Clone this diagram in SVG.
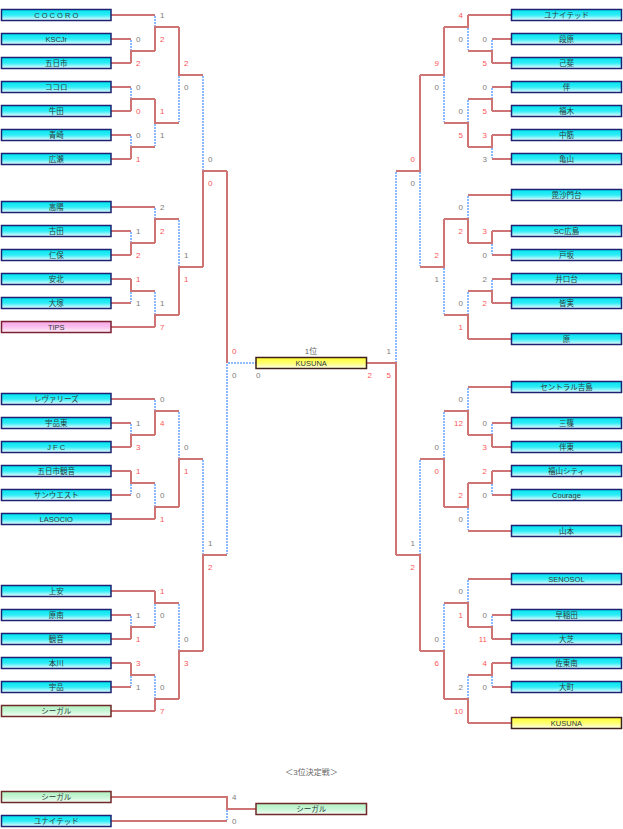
<svg xmlns="http://www.w3.org/2000/svg" width="623" height="829" viewBox="0 0 623 829">
<style>
text{font-family:"Liberation Sans","Noto Sans CJK JP",sans-serif}
.r{stroke:#cf7474;stroke-width:2;fill:none}
.b{stroke:#6ea8ff;stroke-width:1.6;stroke-dasharray:2 1;fill:none}
.c rect{fill:url(#gc);stroke:#1f2272;stroke-width:1.5}
.p rect{fill:url(#gp);stroke:#7a2030;stroke-width:1.5}
.g rect{fill:url(#gg);stroke:#702828;stroke-width:1.5}
.y rect{fill:url(#gy);stroke:#40201a;stroke-width:1.5}
.n text{font-size:7.5px;fill:#2e3a3c;text-anchor:middle}
.s text{font-size:8px}
.sr{fill:#ff5656}
.sg{fill:#7c7c7c}
.L text{text-anchor:start}
.R text{text-anchor:end}
.m{font-size:8px;fill:#666;text-anchor:middle}
</style>
<defs>
<linearGradient id="gc" x1="0" y1="0" x2="0" y2="1"><stop offset="0" stop-color="#00e6f2"/><stop offset="0.5" stop-color="#30ecf6"/><stop offset="1" stop-color="#f4ffff"/></linearGradient>
<linearGradient id="gp" x1="0" y1="0" x2="0" y2="1"><stop offset="0" stop-color="#f7a6e6"/><stop offset="0.5" stop-color="#fac0ee"/><stop offset="1" stop-color="#fff4fc"/></linearGradient>
<linearGradient id="gg" x1="0" y1="0" x2="0" y2="1"><stop offset="0" stop-color="#aef2c2"/><stop offset="0.5" stop-color="#c6f6d4"/><stop offset="1" stop-color="#f6fff8"/></linearGradient>
<linearGradient id="gy" x1="0" y1="0" x2="0" y2="1"><stop offset="0" stop-color="#ffff30"/><stop offset="0.5" stop-color="#ffff70"/><stop offset="1" stop-color="#ffffea"/></linearGradient>
</defs>
<rect width="623" height="829" fill="#fff"/>

<g id="connectors">
<path class="r" d="M111 15H155M111 39H131M111 63H131M111 87H131M111 111H131M111 135H131M111 159H131M111 207H155M111 231H131M111 255H131M111 279H131M111 303H131M111 327H155M111 399H155M111 423H131M111 447H131M111 471H131M111 495H131M111 519H155M111 591H155M111 615H131M111 639H131M111 663H131M111 687H131M111 711H155"/>
<path class="r" d="M131 63V51H155M155 51V27H179M131 111V99H155M131 159V147H155M155 99V123H179M179 27V75H203M131 255V243H155M155 243V219H179M131 279V291H155M155 327V315H179M179 315V267H203M203 267V171H227M131 447V435H155M155 435V411H179M131 471V483H155M155 519V507H179M179 507V459H203M131 639V627H155M155 591V603H179M131 663V675H155M155 711V699H179M179 699V651H203M203 651V555H227M227 171V363"/>
<path class="b" d="M131 40V50M155 16V26M131 88V98M131 136V146M155 124V146M179 76V122M131 232V242M155 208V218M131 292V302M155 292V314M179 220V266M203 76V170M131 424V434M155 400V410M131 484V494M155 484V506M179 412V458M131 616V626M155 604V626M131 676V686M155 676V698M179 604V650M203 460V554M227 364V554M228 363H256"/>
<path class="r" d="M511.5 15H468M511.5 39H492M511.5 63H492M511.5 87H492M511.5 111H492M511.5 135H492M511.5 159H492M511.5 195H468M511.5 231H492M511.5 255H492M511.5 279H492M511.5 303H492M511.5 339H468M511.5 387H468M511.5 423H492M511.5 447H492M511.5 471H492M511.5 495H492M511.5 531H468M511.5 579H468M511.5 615H492M511.5 639H492M511.5 663H492M511.5 687H492M511.5 723H468"/>
<path class="r" d="M492 63V51H468M468 15V27H444M492 111V99H468M492 135V147H468M468 147V123H444M444 27V75H420M492 231V243H468M468 243V219H444M492 303V291H468M468 339V315H444M444 219V267H420M420 75V171H396M492 447V435H468M468 435V411H444M492 471V483H468M468 483V507H444M444 507V459H420M492 639V627H468M468 627V603H444M492 663V675H468M468 723V699H444M444 699V651H420M420 651V555H396M396 555V363H366.5"/>
<path class="b" d="M492 40V50M468 28V50M492 88V98M492 148V158M468 100V122M444 76V122M492 244V254M468 196V218M492 280V290M468 292V314M444 268V314M420 172V266M492 424V434M468 388V410M492 484V494M468 508V530M444 412V458M492 616V626M468 580V602M492 676V686M468 676V698M444 604V650M420 460V554M396 172V362"/>
<path class="r" d="M111 797H227V809H256M111 821H227"/>
<path class="b" d="M227 810V820"/>
</g>

<g id="scores" class="s">
<g class="L">
<text x="136" y="42" class="sg">0</text><text x="136" y="66" class="sr">2</text>
<text x="160" y="18" class="sg">1</text><text x="160" y="42" class="sr">2</text>
<text x="136" y="90" class="sg">0</text><text x="136" y="114" class="sr">0</text>
<text x="136" y="138" class="sg">0</text><text x="136" y="162" class="sr">1</text>
<text x="160" y="114" class="sr">1</text><text x="160" y="138" class="sg">1</text>
<text x="184" y="66" class="sr">2</text><text x="184" y="90" class="sg">0</text>
<text x="136" y="234" class="sg">1</text><text x="136" y="258" class="sr">2</text>
<text x="160" y="210" class="sg">2</text><text x="160" y="234" class="sr">2</text>
<text x="136" y="282" class="sr">1</text><text x="136" y="306" class="sg">1</text>
<text x="160" y="306" class="sg">1</text><text x="160" y="330" class="sr">7</text>
<text x="184" y="258" class="sg">1</text><text x="184" y="282" class="sr">1</text>
<text x="208" y="162" class="sg">0</text><text x="208" y="186" class="sr">0</text>
<text x="136" y="426" class="sg">1</text><text x="136" y="450" class="sr">3</text>
<text x="160" y="402" class="sg">0</text><text x="160" y="426" class="sr">4</text>
<text x="136" y="474" class="sr">1</text><text x="136" y="498" class="sg">0</text>
<text x="160" y="498" class="sg">0</text><text x="160" y="522" class="sr">1</text>
<text x="184" y="450" class="sg">0</text><text x="184" y="474" class="sr">1</text>
<text x="136" y="618" class="sg">1</text><text x="136" y="642" class="sr">1</text>
<text x="160" y="594" class="sr">1</text><text x="160" y="618" class="sg">0</text>
<text x="136" y="666" class="sr">3</text><text x="136" y="690" class="sg">1</text>
<text x="160" y="690" class="sg">0</text><text x="160" y="714" class="sr">7</text>
<text x="184" y="642" class="sg">0</text><text x="184" y="666" class="sr">3</text>
<text x="208" y="546" class="sg">1</text><text x="208" y="570" class="sr">2</text>
<text x="232" y="354" class="sr">0</text><text x="232" y="378" class="sg">0</text>
<text x="256" y="378" class="sg">0</text>
<text x="232" y="800" class="sg">4</text><text x="232" y="824" class="sg">0</text>
</g>
<g class="R">
<text x="487" y="42" class="sg">0</text><text x="487" y="66" class="sr">5</text>
<text x="463" y="18" class="sr">4</text><text x="463" y="42" class="sg">0</text>
<text x="487" y="90" class="sg">0</text><text x="487" y="114" class="sr">5</text>
<text x="487" y="138" class="sr">3</text><text x="487" y="162" class="sg">3</text>
<text x="463" y="114" class="sg">0</text><text x="463" y="138" class="sr">5</text>
<text x="439" y="66" class="sr">9</text><text x="439" y="90" class="sg">0</text>
<text x="487" y="234" class="sr">3</text><text x="487" y="258" class="sg">0</text>
<text x="463" y="210" class="sg">0</text><text x="463" y="234" class="sr">2</text>
<text x="487" y="282" class="sg">2</text><text x="487" y="306" class="sr">2</text>
<text x="463" y="306" class="sg">0</text><text x="463" y="330" class="sr">1</text>
<text x="439" y="258" class="sr">2</text><text x="439" y="282" class="sg">1</text>
<text x="415" y="162" class="sr">0</text><text x="415" y="186" class="sg">0</text>
<text x="487" y="426" class="sg">0</text><text x="487" y="450" class="sr">3</text>
<text x="463" y="402" class="sg">0</text><text x="463" y="426" class="sr">12</text>
<text x="487" y="474" class="sr">2</text><text x="487" y="498" class="sg">0</text>
<text x="463" y="498" class="sr">2</text><text x="463" y="522" class="sg">0</text>
<text x="439" y="450" class="sg">0</text><text x="439" y="474" class="sr">0</text>
<text x="487" y="618" class="sg">0</text><text x="487" y="642" class="sr">11</text>
<text x="463" y="594" class="sg">0</text><text x="463" y="618" class="sr">1</text>
<text x="487" y="666" class="sr">4</text><text x="487" y="690" class="sg">0</text>
<text x="463" y="690" class="sg">2</text><text x="463" y="714" class="sr">10</text>
<text x="439" y="642" class="sg">0</text><text x="439" y="666" class="sr">6</text>
<text x="415" y="546" class="sg">1</text><text x="415" y="570" class="sr">2</text>
<text x="391" y="354" class="sg">1</text><text x="391" y="378" class="sr">5</text>
<text x="372" y="378" class="sr">2</text>
</g>
</g>
<text class="m" x="311" y="354">1位</text>
<text class="m" x="311.5" y="775">＜3位決定戦＞</text>

<g class="n">
<g id="n-cocoro" class="c"><rect x="1.5" y="9.5" width="109.5" height="11"/><text x="56.25" y="17.8">C O C O R O</text></g>
<g id="n-kscjr" class="c"><rect x="1.5" y="33.5" width="109.5" height="11"/><text x="56.25" y="41.8">KSCJr</text></g>
<g id="n-itsukaichi" class="c"><rect x="1.5" y="57.5" width="109.5" height="11"/><text x="56.25" y="65.8">五日市</text></g>
<g id="n-kokoro" class="c"><rect x="1.5" y="81.5" width="109.5" height="11"/><text x="56.25" y="89.8">ココロ</text></g>
<g id="n-ushita" class="c"><rect x="1.5" y="105.5" width="109.5" height="11"/><text x="56.25" y="113.8">牛田</text></g>
<g id="n-aosaki" class="c"><rect x="1.5" y="129.5" width="109.5" height="11"/><text x="56.25" y="137.8">青崎</text></g>
<g id="n-hirose" class="c"><rect x="1.5" y="153.5" width="109.5" height="11"/><text x="56.25" y="161.8">広瀬</text></g>
<g id="n-koyo" class="c"><rect x="1.5" y="201.5" width="109.5" height="11"/><text x="56.25" y="209.8">高陽</text></g>
<g id="n-furuta" class="c"><rect x="1.5" y="225.5" width="109.5" height="11"/><text x="56.25" y="233.8">古田</text></g>
<g id="n-niho" class="c"><rect x="1.5" y="249.5" width="109.5" height="11"/><text x="56.25" y="257.8">仁保</text></g>
<g id="n-ampoku" class="c"><rect x="1.5" y="273.5" width="109.5" height="11"/><text x="56.25" y="281.8">安北</text></g>
<g id="n-otsuka" class="c"><rect x="1.5" y="297.5" width="109.5" height="11"/><text x="56.25" y="305.8">大塚</text></g>
<g id="n-tips" class="p"><rect x="1.5" y="321.5" width="109.5" height="11"/><text x="56.25" y="329.8">TIPS</text></g>
<g id="n-revaries" class="c"><rect x="1.5" y="393.5" width="109.5" height="11"/><text x="56.25" y="401.8">レヴァリーズ</text></g>
<g id="n-ujinahigashi" class="c"><rect x="1.5" y="417.5" width="109.5" height="11"/><text x="56.25" y="425.8">宇品東</text></g>
<g id="n-jfc" class="c"><rect x="1.5" y="441.5" width="109.5" height="11"/><text x="56.25" y="449.8">J F C</text></g>
<g id="n-itsukaichikannon" class="c"><rect x="1.5" y="465.5" width="109.5" height="11"/><text x="56.25" y="473.8">五日市観音</text></g>
<g id="n-sunwest" class="c"><rect x="1.5" y="489.5" width="109.5" height="11"/><text x="56.25" y="497.8">サンウエスト</text></g>
<g id="n-lasocio" class="c"><rect x="1.5" y="513.5" width="109.5" height="11"/><text x="56.25" y="521.8">LASOCIO</text></g>
<g id="n-kamiyasu" class="c"><rect x="1.5" y="585.5" width="109.5" height="11"/><text x="56.25" y="593.8">上安</text></g>
<g id="n-haranan" class="c"><rect x="1.5" y="609.5" width="109.5" height="11"/><text x="56.25" y="617.8">原南</text></g>
<g id="n-kannon" class="c"><rect x="1.5" y="633.5" width="109.5" height="11"/><text x="56.25" y="641.8">観音</text></g>
<g id="n-honkawa" class="c"><rect x="1.5" y="657.5" width="109.5" height="11"/><text x="56.25" y="665.8">本川</text></g>
<g id="n-ujina" class="c"><rect x="1.5" y="681.5" width="109.5" height="11"/><text x="56.25" y="689.8">宇品</text></g>
<g id="n-seagull" class="g"><rect x="1.5" y="705.5" width="109.5" height="11"/><text x="56.25" y="713.8">シーガル</text></g>

<g id="n-united" class="c"><rect x="511.5" y="9.5" width="110" height="11"/><text x="566.5" y="17.8">ユナイテッド</text></g>
<g id="n-danbara" class="c"><rect x="511.5" y="33.5" width="110" height="11"/><text x="566.5" y="41.8">段原</text></g>
<g id="n-koi" class="c"><rect x="511.5" y="57.5" width="110" height="11"/><text x="566.5" y="65.8">己斐</text></g>
<g id="n-tomo" class="c"><rect x="511.5" y="81.5" width="110" height="11"/><text x="566.5" y="89.8">伴</text></g>
<g id="n-fukugi" class="c"><rect x="511.5" y="105.5" width="110" height="11"/><text x="566.5" y="113.8">福木</text></g>
<g id="n-nakasuji" class="c"><rect x="511.5" y="129.5" width="110" height="11"/><text x="566.5" y="137.8">中筋</text></g>
<g id="n-kameyama" class="c"><rect x="511.5" y="153.5" width="110" height="11"/><text x="566.5" y="161.8">亀山</text></g>
<g id="n-bishamondai" class="c"><rect x="511.5" y="189.5" width="110" height="11"/><text x="566.5" y="197.8">毘沙門台</text></g>
<g id="n-schiroshima" class="c"><rect x="511.5" y="225.5" width="110" height="11"/><text x="566.5" y="233.8">SC広島</text></g>
<g id="n-hesaka" class="c"><rect x="511.5" y="249.5" width="110" height="11"/><text x="566.5" y="257.8">戸坂</text></g>
<g id="n-inokuchidai" class="c"><rect x="511.5" y="273.5" width="110" height="11"/><text x="566.5" y="281.8">井口台</text></g>
<g id="n-minami" class="c"><rect x="511.5" y="297.5" width="110" height="11"/><text x="566.5" y="305.8">皆実</text></g>
<g id="n-hara" class="c"><rect x="511.5" y="333.5" width="110" height="11"/><text x="566.5" y="341.8">原</text></g>
<g id="n-centralyoshijima" class="c"><rect x="511.5" y="381.5" width="110" height="11"/><text x="566.5" y="389.8">セントラル吉島</text></g>
<g id="n-misasa" class="c"><rect x="511.5" y="417.5" width="110" height="11"/><text x="566.5" y="425.8">三篠</text></g>
<g id="n-tomohigashi" class="c"><rect x="511.5" y="441.5" width="110" height="11"/><text x="566.5" y="449.8">伴東</text></g>
<g id="n-fukuyamacity" class="c"><rect x="511.5" y="465.5" width="110" height="11"/><text x="566.5" y="473.8">福山シティ</text></g>
<g id="n-courage" class="c"><rect x="511.5" y="489.5" width="110" height="11"/><text x="566.5" y="497.8">Courage</text></g>
<g id="n-yamamoto" class="c"><rect x="511.5" y="525.5" width="110" height="11"/><text x="566.5" y="533.8">山本</text></g>
<g id="n-senosol" class="c"><rect x="511.5" y="573.5" width="110" height="11"/><text x="566.5" y="581.8">SENOSOL</text></g>
<g id="n-waseda" class="c"><rect x="511.5" y="609.5" width="110" height="11"/><text x="566.5" y="617.8">早稲田</text></g>
<g id="n-oshiba" class="c"><rect x="511.5" y="633.5" width="110" height="11"/><text x="566.5" y="641.8">大芝</text></g>
<g id="n-satominami" class="c"><rect x="511.5" y="657.5" width="110" height="11"/><text x="566.5" y="665.8">佐東南</text></g>
<g id="n-omachi" class="c"><rect x="511.5" y="681.5" width="110" height="11"/><text x="566.5" y="689.8">大町</text></g>
<g id="n-kusuna" class="y"><rect x="511.5" y="717.5" width="110" height="11"/><text x="566.5" y="725.8">KUSUNA</text></g>

<g id="n-champion" class="y"><rect x="256" y="357.5" width="110.5" height="11"/><text x="311.25" y="365.8">KUSUNA</text></g>

<g id="n-3rd-seagull" class="g"><rect x="1.5" y="791.5" width="109.5" height="11"/><text x="56.25" y="799.8">シーガル</text></g>
<g id="n-3rd-united" class="c"><rect x="1.5" y="815.5" width="109.5" height="11"/><text x="56.25" y="823.8">ユナイテッド</text></g>
<g id="n-3rd-winner" class="g"><rect x="256" y="803.5" width="110.5" height="11"/><text x="311.25" y="811.8">シーガル</text></g>
</g>
</svg>
